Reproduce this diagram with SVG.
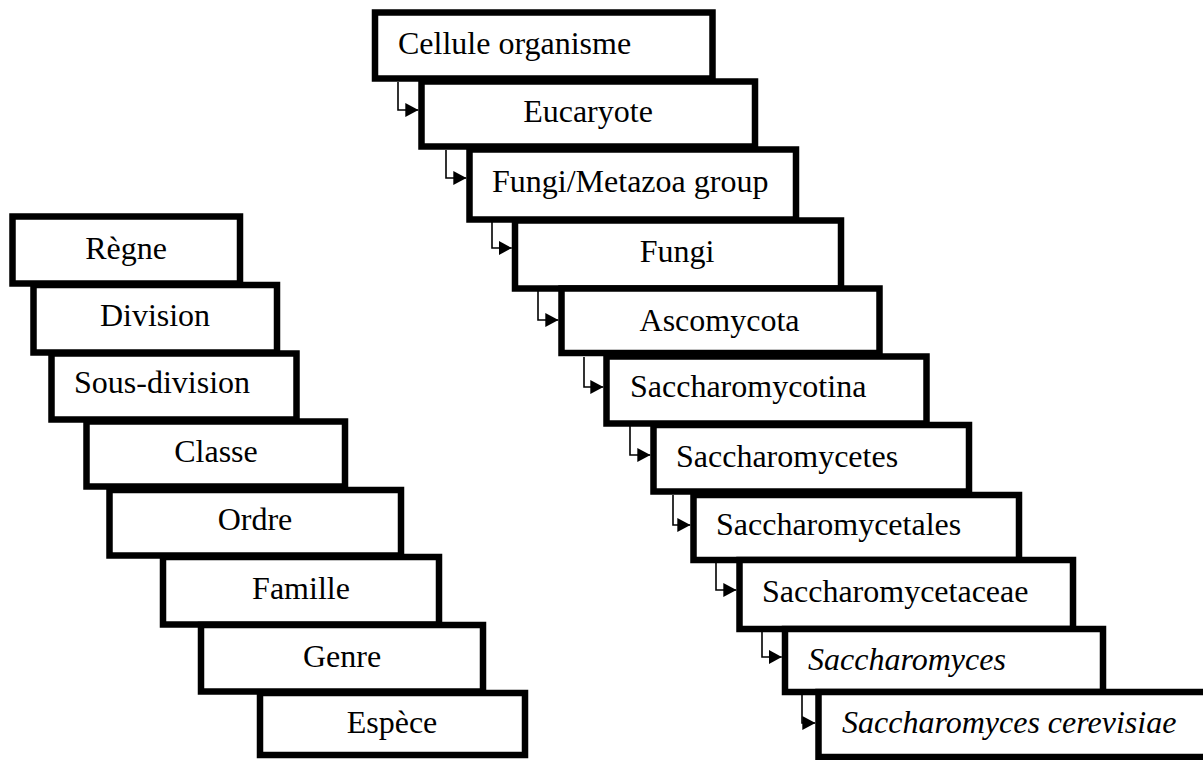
<svg xmlns="http://www.w3.org/2000/svg" width="1203" height="760" viewBox="0 0 1203 760">
<style>
.box{fill:#fff;stroke:#000;stroke-width:6.5}
.t{font-family:"Liberation Serif","Times New Roman",serif;font-size:32px;fill:#000}
.c{text-anchor:middle}
.i{font-style:italic}
.conn{fill:none;stroke:#000;stroke-width:1.6}
</style>
<defs>
<marker id="ah" markerUnits="userSpaceOnUse" markerWidth="13" markerHeight="14" refX="13" refY="7" orient="auto">
<path d="M0,0 L13,7 L0,14 z" fill="#000"/>
</marker>
</defs>
<rect width="1203" height="760" fill="#fff"/>
<g id="connectors">
<path class="conn" d="M398,82 V110 H418.3" marker-end="url(#ah)"/>
<path class="conn" d="M446,150 V178 H466.3" marker-end="url(#ah)"/>
<path class="conn" d="M492,221 V248 H511.8" marker-end="url(#ah)"/>
<path class="conn" d="M538,289 V320 H558.3" marker-end="url(#ah)"/>
<path class="conn" d="M584,357 V387 H603.3" marker-end="url(#ah)"/>
<path class="conn" d="M630,425 V455 H650.3" marker-end="url(#ah)"/>
<path class="conn" d="M673,495 V525 H690.3" marker-end="url(#ah)"/>
<path class="conn" d="M716,560 V590 H736.3" marker-end="url(#ah)"/>
<path class="conn" d="M762,629 V657 H781.8" marker-end="url(#ah)"/>
<path class="conn" d="M802,692 V723 H815.3" marker-end="url(#ah)"/>
</g>
<g id="regne"><rect class="box" x="12.5" y="216.5" width="227.5" height="67"/><text class="t c" x="126" y="259">Règne</text></g>
<g id="division"><rect class="box" x="33.5" y="285" width="243.5" height="67.5"/><text class="t c" x="155" y="326">Division</text></g>
<g id="sous-division"><rect class="box" x="51.5" y="353.5" width="245" height="66"/><text class="t" x="74" y="393">Sous-division</text></g>
<g id="classe"><rect class="box" x="86.5" y="421.5" width="258.5" height="65"/><text class="t c" x="216" y="461.5">Classe</text></g>
<g id="ordre"><rect class="box" x="109.5" y="490" width="291.5" height="65.5"/><text class="t c" x="255" y="530">Ordre</text></g>
<g id="famille"><rect class="box" x="163" y="557" width="276" height="67.5"/><text class="t c" x="301" y="599">Famille</text></g>
<g id="genre"><rect class="box" x="201" y="625" width="282" height="66.5"/><text class="t c" x="342" y="666.5">Genre</text></g>
<g id="espece"><rect class="box" x="260" y="693" width="265" height="62"/><text class="t c" x="392" y="733">Espèce</text></g>

<g id="cellule"><rect class="box" x="375" y="12.5" width="337.5" height="66"/><text class="t" x="398" y="54">Cellule organisme</text></g>
<g id="eucaryote"><rect class="box" x="421.5" y="81.5" width="333.5" height="65"/><text class="t c" x="588" y="121.5">Eucaryote</text></g>
<g id="fungi-metazoa"><rect class="box" x="469.5" y="149.5" width="326.5" height="70"/><text class="t" x="492" y="191.5">Fungi/Metazoa group</text></g>
<g id="fungi"><rect class="box" x="515" y="220.5" width="326" height="68"/><text class="t c" x="677" y="261.5">Fungi</text></g>
<g id="ascomycota"><rect class="box" x="561.5" y="288.5" width="318" height="64.5"/><text class="t c" x="719.5" y="330.5">Ascomycota</text></g>
<g id="saccharomycotina"><rect class="box" x="606.5" y="356.5" width="320" height="67"/><text class="t" x="630" y="397">Saccharomycotina</text></g>
<g id="saccharomycetes"><rect class="box" x="653.5" y="425" width="315.5" height="66.5"/><text class="t" x="676" y="466.5">Saccharomycetes</text></g>
<g id="saccharomycetales"><rect class="box" x="693.5" y="495" width="325.5" height="65"/><text class="t" x="716" y="535">Saccharomycetales</text></g>
<g id="saccharomycetaceae"><rect class="box" x="739.5" y="560" width="333.5" height="69"/><text class="t" x="762" y="601.5">Saccharomycetaceae</text></g>
<g id="saccharomyces"><rect class="box" x="785" y="629" width="318" height="63"/><text class="t i" x="808" y="670">Saccharomyces</text></g>
<g id="saccharomyces-cerevisiae"><rect class="box" x="818.5" y="692" width="396.5" height="65"/><text class="t i" x="842" y="733">Saccharomyces cerevisiae</text></g>
</svg>
